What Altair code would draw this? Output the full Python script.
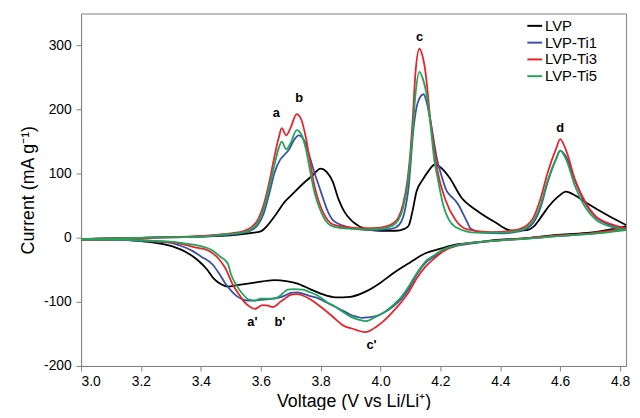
import altair as alt
import pandas as pd

series_names = ["LVP", "LVP-Ti1", "LVP-Ti3", "LVP-Ti5"]
series_colors = ["#000000", "#3b4fa6", "#e8232a", "#20a55a"]

# ---------- LVP (black) ----------
lvp_up_v = [3.00, 3.10, 3.20, 3.30, 3.40, 3.50, 3.56, 3.60, 3.62, 3.65, 3.68, 3.71, 3.74, 3.77, 3.80, 3.82, 3.84, 3.86, 3.88, 3.91, 3.95, 4.00, 4.05, 4.08, 4.094, 4.107, 4.12, 4.14, 4.16, 4.18, 4.20, 4.23, 4.27, 4.32, 4.38, 4.44, 4.49, 4.51, 4.54, 4.56, 4.59, 4.62, 4.65, 4.69, 4.755, 4.82]
lvp_up_i = [-2, -1, 0, 1, 2, 4, 7, 10, 18, 36, 56, 70, 84, 96, 108, 103, 88, 60, 40, 24, 14, 11, 11, 14, 19, 42, 72, 90, 104, 114, 110, 94, 63, 43, 25, 11, 12, 17, 35, 48, 63, 72, 66, 54, 36, 20]
lvp_dn_v = [3.00, 3.10, 3.20, 3.25, 3.31, 3.35, 3.39, 3.42, 3.44, 3.466, 3.49, 3.52, 3.58, 3.645, 3.69, 3.72, 3.765, 3.80, 3.85, 3.90, 3.95, 4.00, 4.04, 4.10, 4.15, 4.20, 4.26, 4.30, 4.40, 4.50, 4.60, 4.70, 4.82]
lvp_dn_i = [-3, -3, -5, -8, -14, -22, -35, -49, -62, -72, -76, -74, -70, -66, -68, -71, -80, -87, -93, -92, -84, -70, -56, -38, -24, -17, -10, -8, -3, 0, 5, 8, 18]

# ---------- LVP-Ti1 (blue) ----------
ti1_up_v = [3.00, 3.20, 3.40, 3.50, 3.545, 3.57, 3.59, 3.61, 3.63, 3.645, 3.665, 3.68, 3.695, 3.71, 3.727, 3.745, 3.76, 3.777, 3.795, 3.81, 3.825, 3.84, 3.875, 3.92, 3.97, 4.02, 4.05, 4.07, 4.08, 4.094, 4.11, 4.125, 4.144, 4.155, 4.167, 4.19, 4.205, 4.22, 4.235, 4.25, 4.262, 4.275, 4.29, 4.30, 4.34, 4.40, 4.45, 4.49, 4.51, 4.535, 4.557, 4.587, 4.60, 4.62, 4.65, 4.686, 4.72, 4.78, 4.82]
ti1_up_i = [-2, 0, 2, 5, 8, 12, 20, 38, 72, 100, 122, 130, 138, 152, 160, 152, 132, 105, 80, 59, 40, 28, 19, 14, 12, 13, 16, 26, 40, 80, 170, 212, 224, 210, 182, 120, 95, 74, 65, 58, 50, 38, 24, 15, 8, 7, 9, 15, 23, 48, 85, 124, 136, 126, 88, 52, 32, 18, 13]
ti1_dn_v = [3.00, 3.10, 3.20, 3.30, 3.33, 3.37, 3.40, 3.44, 3.46, 3.48, 3.50, 3.52, 3.54, 3.555, 3.58, 3.60, 3.62, 3.64, 3.665, 3.69, 3.70, 3.72, 3.74, 3.765, 3.79, 3.82, 3.85, 3.876, 3.90, 3.92, 3.94, 3.96, 3.985, 4.01, 4.04, 4.07, 4.094, 4.12, 4.15, 4.18, 4.21, 4.26, 4.30, 4.40, 4.50, 4.60, 4.70, 4.82]
ti1_dn_i = [-3, -3, -5, -8, -12, -20, -29, -42, -55, -70, -82, -91, -96, -98, -98, -97, -96, -95, -93, -88, -86, -85, -87, -91, -94, -101, -108, -114, -120, -123, -125, -124, -122, -117, -108, -95, -80, -58, -39, -29, -20, -12, -9, -4, -1, 3, 6, 13]

# ---------- LVP-Ti3 (red) ----------
ti3_up_v = [3.00, 3.10, 3.20, 3.30, 3.40, 3.46, 3.50, 3.545, 3.57, 3.59, 3.61, 3.63, 3.645, 3.66, 3.67, 3.685, 3.70, 3.72, 3.735, 3.75, 3.765, 3.78, 3.795, 3.81, 3.84, 3.90, 3.95, 4.00, 4.04, 4.06, 4.075, 4.09, 4.10, 4.107, 4.117, 4.13, 4.14, 4.15, 4.167, 4.18, 4.19, 4.217, 4.25, 4.29, 4.37, 4.45, 4.49, 4.51, 4.535, 4.557, 4.587, 4.60, 4.62, 4.65, 4.686, 4.72, 4.78, 4.82]
ti3_up_i = [-2, -1, 0, 1, 3, 5, 7, 11, 17, 28, 52, 90, 125, 156, 171, 160, 172, 193, 185, 158, 118, 80, 55, 38, 21, 16, 15, 16, 22, 32, 52, 90, 135, 182, 259, 295, 284, 259, 182, 135, 105, 59, 28, 13, 9, 12, 20, 31, 62, 100, 140, 154, 136, 90, 54, 33, 20, 15]
ti3_dn_v = [3.00, 3.15, 3.25, 3.33, 3.38, 3.42, 3.433, 3.46, 3.48, 3.51, 3.53, 3.545, 3.565, 3.58, 3.59, 3.605, 3.625, 3.64, 3.65, 3.665, 3.68, 3.70, 3.72, 3.74, 3.765, 3.79, 3.82, 3.85, 3.876, 3.90, 3.92, 3.947, 3.96, 3.985, 4.01, 4.04, 4.07, 4.094, 4.12, 4.15, 4.18, 4.21, 4.26, 4.30, 4.40, 4.50, 4.60, 4.70, 4.82]
ti3_dn_i = [-3, -3, -5, -9, -15, -19, -22, -33, -46, -76, -90, -100, -108, -111, -109, -105, -106, -108, -106, -100, -95, -89, -88, -90, -96, -104, -115, -127, -137, -141, -144, -147, -146, -139, -130, -116, -100, -85, -64, -45, -32, -21, -11, -8, -4, 0, 4, 7, 15]

# ---------- LVP-Ti5 (green) ----------
ti5_up_v = [3.00, 3.20, 3.40, 3.50, 3.545, 3.57, 3.59, 3.61, 3.63, 3.645, 3.66, 3.67, 3.685, 3.70, 3.72, 3.735, 3.75, 3.765, 3.78, 3.795, 3.81, 3.84, 3.90, 3.95, 4.00, 4.04, 4.06, 4.075, 4.09, 4.10, 4.107, 4.117, 4.13, 4.14, 4.155, 4.167, 4.18, 4.19, 4.21, 4.25, 4.32, 4.40, 4.45, 4.49, 4.51, 4.535, 4.557, 4.587, 4.60, 4.62, 4.65, 4.686, 4.72, 4.78, 4.82]
ti5_up_i = [-2, 0, 2, 6, 9, 14, 24, 45, 82, 112, 140, 150, 138, 148, 168, 162, 140, 104, 70, 48, 32, 18, 14, 13, 14, 19, 28, 46, 82, 125, 165, 225, 259, 250, 220, 175, 120, 95, 50, 17, 8, 8, 10, 17, 26, 52, 88, 124, 136, 122, 80, 46, 28, 16, 12]
ti5_dn_v = [3.00, 3.10, 3.20, 3.30, 3.35, 3.40, 3.44, 3.466, 3.49, 3.50, 3.52, 3.54, 3.555, 3.565, 3.58, 3.60, 3.62, 3.64, 3.66, 3.68, 3.69, 3.71, 3.74, 3.765, 3.79, 3.82, 3.85, 3.876, 3.90, 3.93, 3.95, 3.96, 3.985, 4.01, 4.04, 4.07, 4.094, 4.12, 4.15, 4.18, 4.21, 4.26, 4.30, 4.40, 4.50, 4.60, 4.70, 4.82]
ti5_dn_i = [-3, -3, -4, -6, -9, -13, -20, -30, -40, -56, -75, -88, -95, -97, -98, -95, -95, -95, -92, -84, -81, -80, -81, -85, -90, -100, -108, -116, -123, -128, -130, -129, -123, -117, -106, -92, -76, -56, -37, -27, -18, -11, -8, -4, -1, 3, 6, 12]

# ---------- annotations ----------
ann_text = ["a", "b", "c", "d", "a'", "b'", "c'"]
ann_v = [3.652, 3.728, 4.13, 4.60, 3.572, 3.664, 3.97]
ann_i = [194, 218, 313, 171, -131, -131, -168]

# ---------- axes ----------
x_ticks = [3.0, 3.1, 3.2, 3.3, 3.4, 3.5, 3.6, 3.7, 3.8, 3.9, 4.0, 4.1, 4.2, 4.3, 4.4, 4.5, 4.6, 4.7, 4.8]
y_ticks = [-200, -150, -100, -50, 0, 50, 100, 150, 200, 250, 300]

branches = [
    ("LVP", "up", lvp_up_v, lvp_up_i), ("LVP", "down", lvp_dn_v, lvp_dn_i),
    ("LVP-Ti1", "up", ti1_up_v, ti1_up_i), ("LVP-Ti1", "down", ti1_dn_v, ti1_dn_i),
    ("LVP-Ti3", "up", ti3_up_v, ti3_up_i), ("LVP-Ti3", "down", ti3_dn_v, ti3_dn_i),
    ("LVP-Ti5", "up", ti5_up_v, ti5_up_i), ("LVP-Ti5", "down", ti5_dn_v, ti5_dn_i),
]
rows = []
for s, b, vs, cs in branches:
    for v, c in zip(vs, cs):
        rows.append({"series": s, "branch": s + "-" + b, "V": v, "I": c})
df = pd.DataFrame(rows)
ann = pd.DataFrame({"t": ann_text, "V": ann_v, "I": ann_i})

font = "Liberation Sans"
xscale = alt.Scale(domain=[3.0, 4.82], nice=False, zero=False)
yscale = alt.Scale(domain=[-200, 350], nice=False, zero=False)

lines = alt.Chart(df).mark_line(strokeWidth=1.8, interpolate="monotone").encode(
    x=alt.X("V:Q", scale=xscale,
            axis=alt.Axis(title="Voltage (V vs Li/Li⁺)", values=x_ticks,
                          labelExpr="abs(round(datum.value*10)) % 2 == 0 ? format(datum.value, '.1f') : ''",
                          titlePadding=4, labelPadding=4, tickSize=5)),
    y=alt.Y("I:Q", scale=yscale,
            axis=alt.Axis(title="Current (mA g⁻¹)", values=y_ticks,
                          labelExpr="datum.value % 100 == 0 ? '' + datum.value : ''",
                          titlePadding=6, labelPadding=5, tickSize=5)),
    color=alt.Color("series:N", scale=alt.Scale(domain=series_names, range=series_colors),
                    legend=alt.Legend(title=None, orient="none", legendX=451, legendY=4,
                                      symbolType="stroke", symbolSize=225, symbolStrokeWidth=2,
                                      labelFontSize=15, labelFont=font, labelColor="black",
                                      rowPadding=0, labelOffset=2, padding=0)),
    detail="branch:N",
)

labels = alt.Chart(ann).mark_text(fontSize=13, fontWeight="bold", font=font, color="black").encode(
    x=alt.X("V:Q", scale=xscale), y=alt.Y("I:Q", scale=yscale), text="t:N"
)

chart = alt.layer(lines, labels).properties(
    width=552, height=357,
    autosize=alt.AutoSizeParams(type="none"),
    padding={"left": 74, "top": 3, "right": 6, "bottom": 42},
).configure_view(stroke="#808080", strokeWidth=1).configure_axis(
    grid=False, domainColor="#808080", tickColor="#808080",
    labelFont=font, titleFont=font, labelFontSize=14, titleFontSize=18,
    titleFontWeight="normal", labelColor="black", titleColor="black",
)

chart.save("out.html", embed_options={"renderer": "svg", "actions": False})
